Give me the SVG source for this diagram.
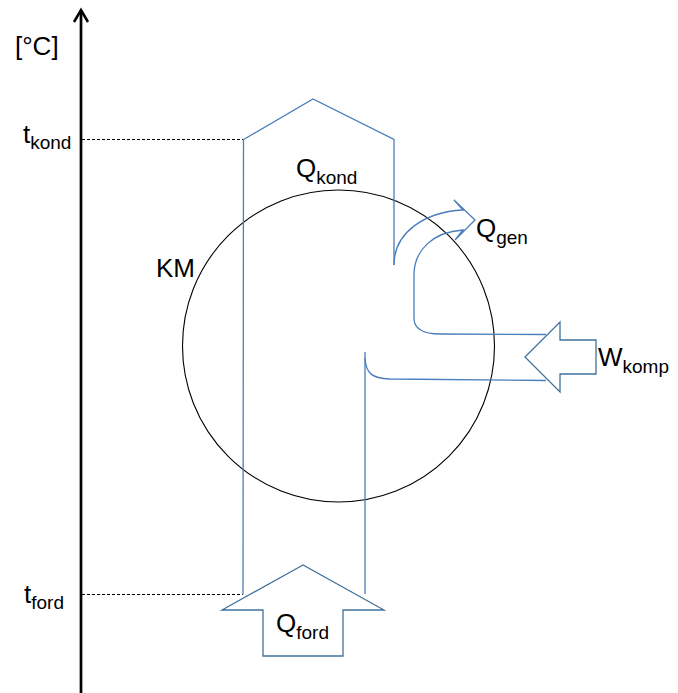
<svg xmlns="http://www.w3.org/2000/svg" width="678" height="693" viewBox="0 0 678 693">
<style>
.lbl{font-family:"Liberation Sans",Arial,sans-serif;font-size:26px;fill:#000}
.sub{font-size:19px}
.flow{fill:none;stroke:#4a7ebb;stroke-width:1.3}
.blk{fill:#fff;stroke:#41719c;stroke-width:1.3;stroke-linejoin:miter}
.dash{stroke:#000;stroke-width:1;stroke-dasharray:3,2;fill:none}
</style>
<rect width="678" height="693" fill="#fff"/>
<g id="axis">
<line x1="81" y1="10" x2="81" y2="693" stroke="#000" stroke-width="2.7"/>
<polyline points="74,22 81,10 88,22" fill="none" stroke="#000" stroke-width="2.5"/>
<text class="lbl" x="15" y="55">[°C]</text>
</g>
<g id="t_kond">
<line class="dash" x1="82" y1="139.5" x2="244" y2="139.5"/>
<text class="lbl" x="23" y="143">t<tspan class="sub" dy="6">kond</tspan></text>
</g>
<g id="t_ford">
<line class="dash" x1="82" y1="594.5" x2="243" y2="594.5"/>
<text class="lbl" x="24" y="603">t<tspan class="sub" dy="6">ford</tspan></text>
</g>
<g id="KM">
<circle cx="338.5" cy="346" r="156" fill="none" stroke="#000" stroke-width="1.1"/>
<text class="lbl" x="156" y="277">KM</text>
</g>
<g id="connectors">
<path class="flow" d="M243,594.5 L243.5,139.5 L313,99 L394,139.5 L394,265"/>
<path class="flow" d="M394,265 C394,232 425,212 463,210 L454,200 L475,220 L455,240 L463,230 C433,232 414,250 414,275 L414,318 C414,330 424,334 440,334 L546,334.5"/>
<path class="flow" d="M365,352 L365,594"/>
<path class="flow" d="M365,358 C366,374 372,378 390,379 L546,380.5"/>
</g>
<g id="Q_kond">
<text class="lbl" x="296" y="177">Q<tspan class="sub" dy="7">kond</tspan></text>
</g>
<g id="Q_gen">
<text class="lbl" x="476" y="237">Q<tspan class="sub" dy="7">gen</tspan></text>
</g>
<g id="W_komp">
<polygon class="blk" points="525,357 560,322 560,340 596,340 596,374 560,374 560,392"/>
<text class="lbl" x="598" y="366">W<tspan class="sub" dy="7">komp</tspan></text>
</g>
<g id="Q_ford">
<polygon class="blk" points="303,565 222,610 263,610 263,656 343,656 343,610 384,610"/>
<text class="lbl" x="276" y="632">Q<tspan class="sub" dy="7">ford</tspan></text>
</g>
</svg>
